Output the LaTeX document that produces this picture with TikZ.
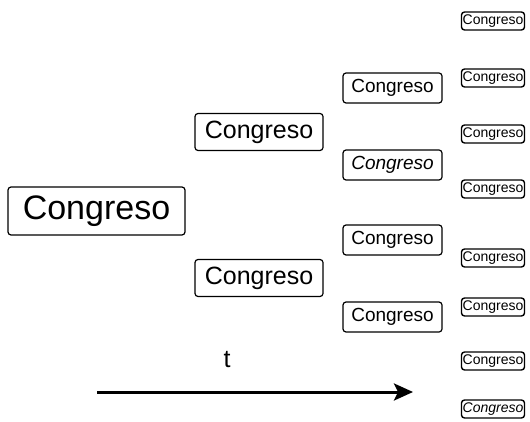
\documentclass[tikz,border=0pt]{standalone}
\usepackage{fontspec}
\setmainfont{Liberation Sans}
\usepackage{tikz}
\usetikzlibrary{arrows.meta,positioning}

\begin{document}
\begin{tikzpicture}[x=1pt,y=-1pt,
  cbox/.style={draw,line width=1.2pt,rounded corners=3pt,inner sep=0pt},
  lev0/.style={cbox,minimum width=177pt,minimum height=48pt,font=\fontsize{34}{40}\selectfont},
  lev1/.style={cbox,minimum width=128pt,minimum height=37pt,font=\fontsize{25}{30}\selectfont},
  lev2/.style={cbox,minimum width=99pt,minimum height=30pt,font=\fontsize{19}{23}\selectfont},
  lev3/.style={cbox,line width=1.4pt,minimum width=63pt,minimum height=18pt,font=\fontsize{14}{16}\selectfont}]
  \useasboundingbox (0,0) rectangle (530,422);
  % first generation
  \node[lev0] (c_0) at (96.5,211) {Congreso};
  % second generation
  \node[lev1] (c_1) at (259,132) {Congreso};
  \node[lev1] (c_2) at (259,278) {Congreso};
  % third generation
  \node[lev2] (c_3) at (392.5,88) {Congreso};
  \node[lev2] (c_4) at (392.5,165) {\itshape Congreso};
  \node[lev2] (c_5) at (392.5,240) {Congreso};
  \node[lev2] (c_6) at (392.5,317) {Congreso};
  % fourth generation
  \node[lev3] (c_7) at (493,21) {Congreso};
  \node[lev3] (c_8) at (493,78) {Congreso};
  \node[lev3] (c_9) at (493,134) {Congreso};
  \node[lev3] (c_10) at (493,189) {Congreso};
  \node[lev3] (c_11) at (493,258) {Congreso};
  \node[lev3] (c_12) at (493,307) {Congreso};
  \node[lev3] (c_13) at (493,361) {Congreso};
  \node[lev3] (c_14) at (493,409) {\itshape Congreso};
  % time axis
  \coordinate (t_0) at (97,392);
  \coordinate (t_1) at (413,392);
  \draw[line width=3pt,-{Stealth[length=19pt,width=17pt,inset=4pt]}] (t_0) -- (t_1);
  \node[font=\fontsize{25}{30}\selectfont] (t) at (227,360) {t};
\end{tikzpicture}
\end{document}
